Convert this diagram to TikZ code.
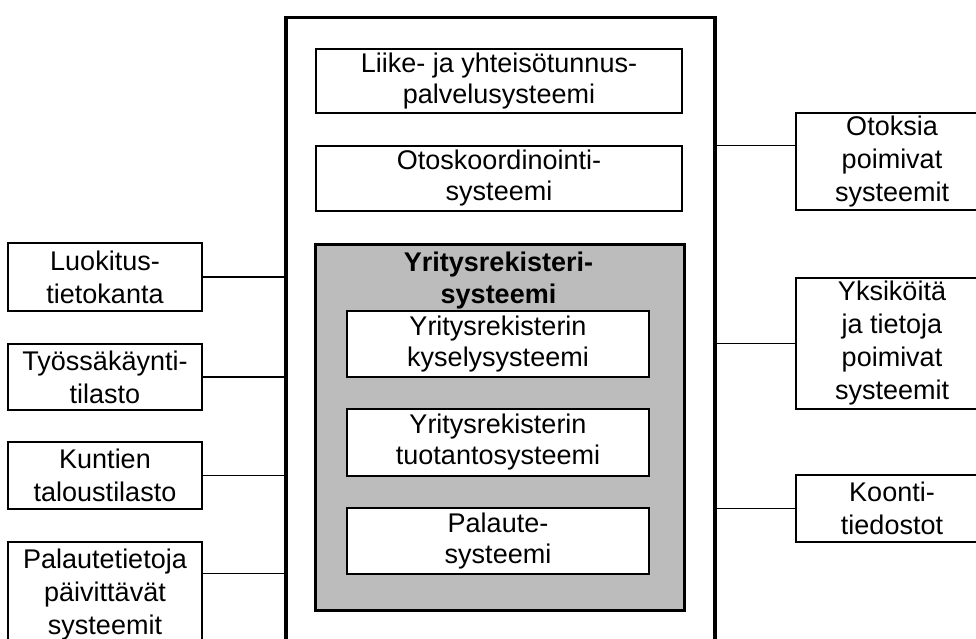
\documentclass[tikz,border=0pt]{standalone}
\usepackage{fontspec}
\setmainfont{Liberation Sans}
\definecolor{shade}{RGB}{188,188,188}
\begin{document}
\begin{tikzpicture}[x=1pt,y=-1pt,
  box/.style={draw, line width=1.2pt, fill=white, align=center, inner sep=0pt,
    font=\fontsize{27}{31}\selectfont},
  sidebox/.style={box, font=\fontsize{27}{33}\selectfont},
  conn/.style={line width=1.2pt}]
\useasboundingbox (0,0) rectangle (976,639);
\clip (0,0) rectangle (976,639);
% outer frame
\node[draw, line width=3.5pt, minimum width=429pt, minimum height=660pt, inner sep=0pt,
  anchor=north west] (outer) at (284,16) {};
% top boxes
\node[box, minimum width=366pt, minimum height=64pt] (liike) at (499,81)
  {Liike- ja yhteisötunnus-\\palvelusysteemi};
\node[box, minimum width=366pt, minimum height=65pt] (otos) at (499,178.5)
  {Otoskoordinointi-\\systeemi};
% grey register system
\node[draw, line width=2.5pt, fill=shade, minimum width=369pt, minimum height=366pt,
  inner sep=0pt, anchor=north west] (yr) at (314,243) {};
\node[align=center, inner sep=0pt, font=\bfseries\fontsize{27}{32}\selectfont]
  (title) at (498.5,280.5) {Yritysrekisteri-\\systeemi};
\node[box, minimum width=302pt, minimum height=66pt] (kysely) at (498,344)
  {Yritysrekisterin\\kyselysysteemi};
\node[box, minimum width=302pt, minimum height=67pt] (tuot) at (498,442.5)
  {Yritysrekisterin\\tuotantosysteemi};
\node[box, minimum width=302pt, minimum height=66pt] (pal) at (498,541)
  {Palaute-\\systeemi};
% left boxes
\node[sidebox, minimum width=194pt, minimum height=68pt] (luok) at (105,277)
  {Luokitus-\\tietokanta};
\node[sidebox, minimum width=194pt, minimum height=66pt] (tyo) at (105,377)
  {Työssäkäynti-\\tilasto};
\node[sidebox, minimum width=194pt, minimum height=67pt] (kunt) at (105,475.5)
  {Kuntien\\taloustilasto};
\node[sidebox, minimum width=194pt, minimum height=106pt] (paiv) at (105,595)
  {Palautetietoja\\päivittävät\\systeemit};
% right boxes
\node[sidebox, minimum width=192pt, minimum height=97pt] (otok) at (892,161.5)
  {Otoksia\\poimivat\\systeemit};
\node[sidebox, minimum width=192pt, minimum height=131pt] (yks) at (892,343.5)
  {Yksiköitä\\ja tietoja\\poimivat\\systeemit};
\node[sidebox, minimum width=192pt, minimum height=67pt] (koon) at (892,508.5)
  {Koonti-\\tiedostot};
% connectors
\draw[conn] (luok.east) -- (luok.east -| outer.west);
\draw[conn] (tyo.east) -- (tyo.east -| outer.west);
\draw[conn] (kunt.east) -- (kunt.east -| outer.west);
\coordinate (pl) at ([yshift=-32pt]paiv.north east);
\draw[conn] (pl) -- (pl -| outer.west);
\coordinate (ol) at ([yshift=-33pt]otok.north west);
\draw[conn] (ol) -- (ol -| outer.east);
\draw[conn] (yks.west) -- (yks.west -| outer.east);
\draw[conn] (koon.west) -- (koon.west -| outer.east);
\end{tikzpicture}
\end{document}
